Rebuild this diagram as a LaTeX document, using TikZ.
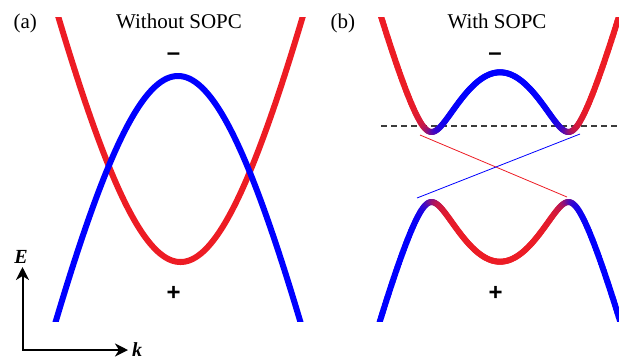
\documentclass[tikz,border=0pt]{standalone}
\usepackage{fontspec}
\setmainfont{Liberation Serif}
\newfontfamily\signfont{Liberation Sans}
\usetikzlibrary{arrows.meta}
\definecolor{cred}{RGB}{237,28,36}
\definecolor{cblue}{RGB}{0,0,255}
\definecolor{cdash}{RGB}{60,60,60}
\tikzset{
  band/.style={line width=6pt},
  segband/.style={line width=6pt, line cap=round},
  thinline/.style={line width=0.8pt},
  axisline/.style={line width=2pt, {Stealth[length=13pt,width=13pt,inset=4pt]}-{Stealth[length=13pt,width=13pt,inset=4pt]}},
  title/.style={anchor=base, font=\fontsize{21}{24}\selectfont},
  panel/.style={anchor=base west, font=\fontsize{21}{24}\selectfont},
  sign/.style={font=\signfont\bfseries\fontsize{24}{26}\selectfont, inner sep=0pt},
  axislabel/.style={font=\fontsize{20}{22}\selectfont\bfseries\itshape, inner sep=0pt}
}
\begin{document}
\begin{tikzpicture}[x=1pt, y=-1pt,
  declare function={
    ff(\t)=100*(sqrt(25+20.45*(\t/100)*(\t/100))-5);
    dd(\t)=(ff(\t)-88)/100;
    RR(\t)=100*sqrt(dd(\t)*dd(\t)+0.1225);
    rr(\t)=dd(\t)*100/RR(\t);
    ww(\t)=50*(1+(3*rr(\t)-rr(\t)*rr(\t)*rr(\t))/2);
  }]
\useasboundingbox (0,0) rectangle (619,360);

% titles
\node[panel] (la) at (10,28) {(a)};
\node[title] (ta) at (179,28) {Without SOPC};
\node[panel] (lb) at (327,28) {(b)};
\node[title] (tb) at (497,28) {With SOPC};

% dashed line
\coordinate (d1) at (381,126);
\coordinate (d2) at (619,126);
\draw[cdash, line width=1.5pt, dash pattern=on 6pt off 4pt] (d1) -- (d2);

% thin coupling lines
\coordinate (ul) at (420,135);
\coordinate (lr) at (567,197);
\coordinate (ur) at (580,134);
\coordinate (ll) at (417,198);
\draw[thinline, cred] (ul) -- (lr);
\draw[thinline, cblue] (ur) -- (ll);

\begin{scope}
\clip (0,17) rectangle (619,321);
% panel (a)
\draw[band, cred] plot[domain=-127:127, samples=161, smooth] ({180.5+\x}, {262-ff(\x)});
\draw[band, cblue] plot[domain=-127:127, samples=161, smooth] ({178+\x}, {76+ff(\x)});
% panel (b): upper band
\foreach \i in {0,...,199} {
  \pgfmathsetmacro\xa{-125+1.25*\i}
  \pgfmathsetmacro\xb{\xa+1.25}
  \pgfmathsetmacro\xm{\xa+0.625}
  \pgfmathsetmacro\ya{167-RR(\xa)}
  \pgfmathsetmacro\yb{167-RR(\xb)}
  \pgfmathsetmacro\w{ww(\xm)}
  \draw[segband, cred!\w!cblue] (500+\xa,\ya) -- (500+\xb,\yb);
}
% panel (b): lower band
\foreach \i in {0,...,199} {
  \pgfmathsetmacro\xa{-125+1.25*\i}
  \pgfmathsetmacro\xb{\xa+1.25}
  \pgfmathsetmacro\xm{\xa+0.625}
  \pgfmathsetmacro\ya{167+RR(\xa)}
  \pgfmathsetmacro\yb{167+RR(\xb)}
  \pgfmathsetmacro\w{100-ww(\xm)}
  \draw[segband, cred!\w!cblue] (500+\xa,\ya) -- (500+\xb,\yb);
}
\end{scope}

% signs
\node[sign] (ma) at (173.5,57) {–};
\node[sign] (pa) at (173.7,293) {+};
\node[sign] (mb) at (495,57) {–};
\node[sign] (pb) at (495.7,293) {+};

% axes
\coordinate (O) at (22.5,350);
\coordinate (Etip) at (22.5,267);
\coordinate (ktip) at (128,350);
\draw[axisline] (Etip) -- (O) -- (ktip);
\node[axislabel] (E) at (21,256.5) {E};
\node[axislabel] (k) at (137,350) {k};
\end{tikzpicture}
\end{document}
